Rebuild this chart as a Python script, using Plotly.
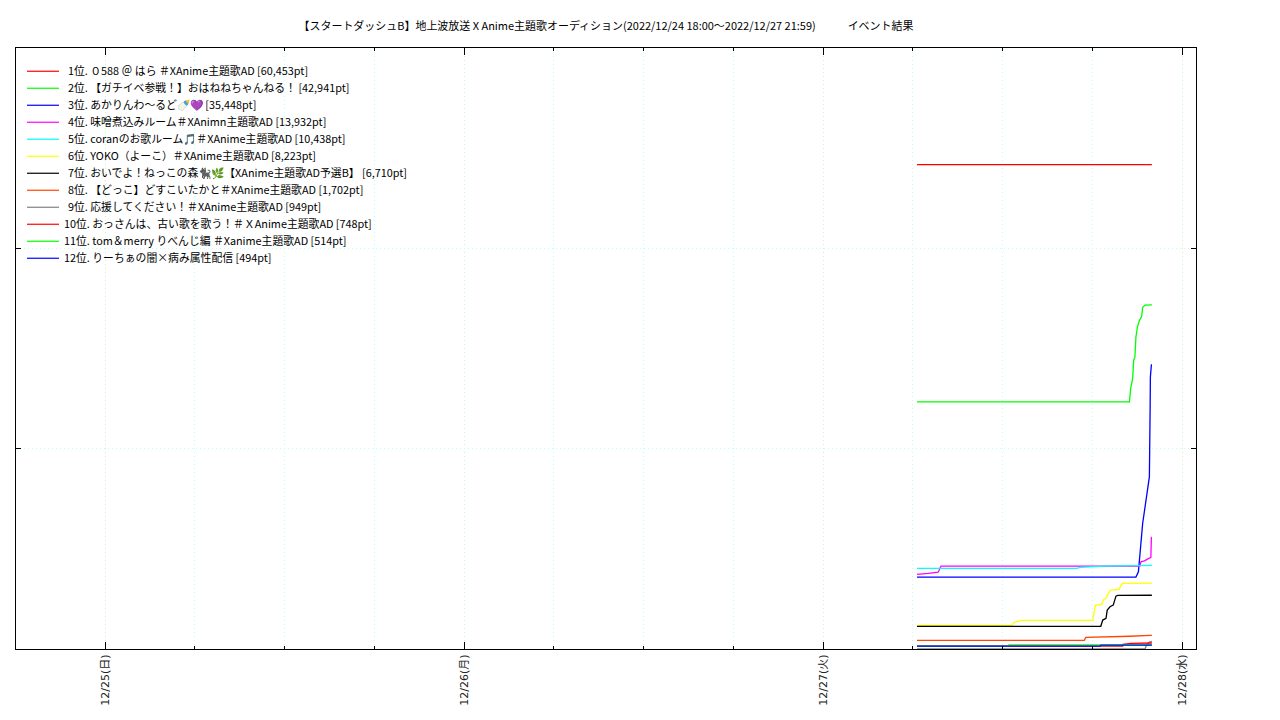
import plotly.graph_objects as go

FONT = "Noto Sans CJK JP, Noto Sans, DejaVu Sans"
DAY = "2022-12-27 "
TITLE = "【スタートダッシュB】地上波放送 X Anime主題歌オーディション(2022/12/24 18:00～2022/12/27 21:59)" + "\u00a0" * 13 + "イベント結果"

labels = [
    "1位. ０588 ＠ はら ＃XAnime主題歌AD [60,453pt]",
    "2位. 【ガチイベ参戦！】おはねねちゃんねる！ [42,941pt]",
    "3位. あかりんわ〜るど🍼💜 [35,448pt]",
    "4位. 味噌煮込みルーム＃XAnimn主題歌AD [13,932pt]",
    "5位. coranのお歌ルーム🎵\ufe0f＃XAnime主題歌AD [10,438pt]",
    "6位. YOKO（よーこ）＃XAnime主題歌AD [8,223pt]",
    "7位. おいでよ！ねっこの森🐈‍⬛🌿【XAnime主題歌AD予選B】 [6,710pt]",
    "8位. 【どっこ】どすこいたかと＃XAnime主題歌AD [1,702pt]",
    "9位. 応援してください！＃XAnime主題歌AD [949pt]",
    "10位. おっさんは、古い歌を歌う！＃ＸAnime主題歌AD [748pt]",
    "11位. tom＆merry りべんじ編 ＃Xanime主題歌AD [514pt]",
    "12位. りーちぁの闇×病み属性配信 [494pt]",
]
colors = ["#ff0000", "#00ff00", "#0000ff", "#ff00ff", "#00ffff", "#ffff00",
          "#000000", "#ff4500", "#808080", "#ff0000", "#00ff00", "#0000ff"]

t1 = ["06:17", "21:59"]
v1 = [60453, 60453]
t2 = ["06:17", "20:29", "20:34", "20:38", "20:42", "20:46", "20:51", "20:55", "21:01", "21:09", "21:18", "21:22", "21:32", "21:59"]
v2 = [30840, 30840, 32520, 33140, 33770, 36010, 36420, 38910, 40160, 40990, 41490, 42650, 42920, 42941]
t3 = ["06:17", "20:55", "21:05", "21:09", "21:15", "21:22", "21:32", "21:42", "21:49", "21:52", "21:53", "21:57", "21:59"]
v3 = [8970, 8970, 9630, 11500, 13170, 15660, 17730, 19810, 21470, 30030, 33930, 35448, 35448]
t4 = ["06:17", "06:56", "07:02", "07:42", "07:49", "07:53", "21:11", "21:15", "21:29", "21:45", "21:55", "21:57", "21:59"]
v4 = [9310, 9350, 9430, 9590, 10260, 10340, 10340, 10880, 11000, 11300, 11430, 13932, 13932]
t5 = ["06:17", "16:58", "17:11", "17:51", "18:51", "20:59", "21:59"]
v5 = [10055, 10055, 10180, 10260, 10340, 10400, 10438]
t6 = ["06:17", "12:37", "12:47", "13:10", "13:17", "18:02", "18:07", "18:12", "18:38", "18:44", "18:55", "19:04", "19:15", "19:48", "19:51", "20:00", "21:59"]
v6 = [2950, 2950, 3330, 3490, 3580, 3580, 4860, 5440, 5570, 6110, 6320, 6940, 7350, 7440, 7690, 8190, 8223]
t7 = ["06:17", "18:34", "18:42", "18:55", "19:00", "19:11", "19:24", "19:35", "19:42", "21:59"]
v7 = [2830, 2830, 3610, 3830, 4860, 5270, 5480, 6600, 6700, 6710]
t8 = ["06:17", "17:28", "17:34", "19:11", "20:31", "21:52", "21:59"]
v8 = [1080, 1080, 1440, 1490, 1590, 1702, 1702]
t9 = ["06:17", "21:32", "21:36", "21:49", "21:59"]
v9 = [0, 0, 400, 850, 949]
t10 = ["06:17", "20:02", "20:03", "20:34", "21:59"]
v10 = [370, 370, 585, 710, 748]
t11 = ["06:17", "12:22", "12:26", "21:59"]
v11 = [370, 370, 514, 514]
t12 = ["06:17", "18:31", "18:35", "21:59"]
v12 = [370, 370, 494, 494]

times = [t1, t2, t3, t4, t5, t6, t7, t8, t9, t10, t11, t12]
values = [v1, v2, v3, v4, v5, v6, v7, v8, v9, v10, v11, v12]

day_ticks = ["2022-12-25", "2022-12-26", "2022-12-27", "2022-12-28"]
day_text = ["12/25(日)", "12/26(月)", "12/27(火)", "12/28(水)"]

L, R, T, B = 16, 1196, 48, 649


def px(x):
    return (x - L) / (R - L)


def py(y):
    return (B - y) / (B - T)


fig = go.Figure()
for name, tt, vv, col in zip(labels, times, values, colors):
    fig.add_trace(go.Scatter(x=[DAY + s for s in tt], y=vv, mode="lines", name=name,
                             line=dict(color=col, width=1.3), showlegend=False,
                             hoverinfo="skip"))

shapes = [dict(type="rect", xref="paper", yref="paper", x0=px(20), x1=px(417),
               y0=py(272), y1=py(53), fillcolor="white", line_width=0, layer="between")]
annotations = []
for i, (name, col) in enumerate(zip(labels, colors)):
    y = 71 + 17 * i
    shapes.append(dict(type="line", xref="paper", yref="paper", x0=px(27), x1=px(59),
                       y0=py(y + 0.25), y1=py(y + 0.25), line=dict(color=col, width=1.2)))
    annotations.append(dict(xref="paper", yref="paper", x=px(68 if i < 9 else 64), y=py(y),
                            text=name, showarrow=False, xanchor="left", yanchor="middle",
                            xshift=-1, yshift=0.7,
                            font=dict(family=FONT, size=10.83, color="#000000"),
                            borderpad=0))

fig.update_layout(
    width=1280, height=720, margin=dict(l=L, r=1280 - R, t=T, b=720 - B),
    paper_bgcolor="white", plot_bgcolor="white", showlegend=False,
    title=dict(text=TITLE, x=606 / 1280, xref="container", xanchor="center",
               y=1 - 26 / 720, yref="container", yanchor="middle",
               font=dict(family=FONT, size=10.97, color="#000000")),
    shapes=shapes, annotations=annotations,
)
fig.update_xaxes(
    type="date", range=["2022-12-24 18:03", "2022-12-28 00:56"],
    tickmode="array", tickvals=day_ticks, ticktext=day_text, tickangle=-90,
    tickfont=dict(family="DejaVu Sans, " + FONT, size=11, color="#222222"),
    ticks="inside", ticklen=7, tickcolor="#000000", tickwidth=1,
    showline=True, linecolor="#000000", linewidth=1, mirror="ticks",
    showgrid=True, gridcolor="#c4f5c4", griddash="1px,3px", gridwidth=1, zeroline=False,
    minor=dict(dtick=21600000, tick0="2022-12-25", ticks="inside", ticklen=3,
               tickcolor="#000000", showgrid=True, gridcolor="#b8ffff",
               griddash="1px,3px", gridwidth=1),
)
fig.update_yaxes(
    range=[0, 75000], tickmode="array", tickvals=[25000, 50000], showticklabels=False,
    ticks="inside", ticklen=5, tickcolor="#000000", tickwidth=1,
    showline=True, linecolor="#000000", linewidth=1, mirror="ticks",
    showgrid=True, gridcolor="#b8ffff", griddash="1px,3px", gridwidth=1, zeroline=False,
)

fig.write_html("out.html", config=dict(displayModeBar=False),
               post_script="document.body.style.margin='0';")
